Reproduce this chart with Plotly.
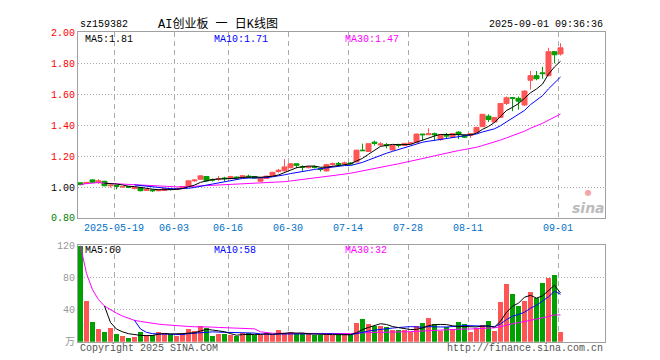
import plotly.graph_objects as go
import pandas as pd

# ---------------- data ----------------
dates = [
    "2025-05-09",
    "2025-05-12", "2025-05-13", "2025-05-14", "2025-05-15", "2025-05-16",
    "2025-05-19", "2025-05-20", "2025-05-21", "2025-05-22", "2025-05-23",
    "2025-05-26", "2025-05-27", "2025-05-28", "2025-05-29", "2025-05-30",
    "2025-06-03", "2025-06-04", "2025-06-05", "2025-06-06",
    "2025-06-09", "2025-06-10", "2025-06-11", "2025-06-12", "2025-06-13",
    "2025-06-16", "2025-06-17", "2025-06-18", "2025-06-19", "2025-06-20",
    "2025-06-23", "2025-06-24", "2025-06-25", "2025-06-26", "2025-06-27",
    "2025-06-30", "2025-07-01", "2025-07-02", "2025-07-03", "2025-07-04",
    "2025-07-07", "2025-07-08", "2025-07-09", "2025-07-10", "2025-07-11",
    "2025-07-14", "2025-07-15", "2025-07-16", "2025-07-17", "2025-07-18",
    "2025-07-21", "2025-07-22", "2025-07-23", "2025-07-24", "2025-07-25",
    "2025-07-28", "2025-07-29", "2025-07-30", "2025-07-31", "2025-08-01",
    "2025-08-04", "2025-08-05", "2025-08-06", "2025-08-07", "2025-08-08",
    "2025-08-11", "2025-08-12", "2025-08-13", "2025-08-14", "2025-08-15",
    "2025-08-18", "2025-08-19", "2025-08-20", "2025-08-21", "2025-08-22",
    "2025-08-25", "2025-08-26", "2025-08-27", "2025-08-28", "2025-08-29",
    "2025-09-01",
]

open_p = [1.027, 1.022, 1.046, 1.030, 1.037, 1.008, 1.010, 1.000, 1.002, 0.990,
          0.995, 0.978, 0.980, 0.976, 0.978, 0.988, 0.984, 0.990, 1.006, 1.040,
          1.050, 1.068, 1.048, 1.050, 1.058, 1.055, 1.064, 1.060, 1.070, 1.068,
          1.037, 1.055, 1.073, 1.100, 1.105, 1.125, 1.150, 1.130, 1.125, 1.132,
          1.118, 1.104, 1.145, 1.152, 1.150, 1.155, 1.162, 1.238, 1.230, 1.290,
          1.272, 1.274, 1.240, 1.275, 1.268, 1.280, 1.288, 1.342, 1.338, 1.345,
          1.306, 1.335, 1.323, 1.355, 1.333, 1.333, 1.352, 1.390, 1.458, 1.420,
          1.450, 1.540, 1.578, 1.573, 1.530, 1.690, 1.720, 1.738, 1.720, 1.875,
          1.860]
high_p = [1.030, 1.033, 1.050, 1.050, 1.040, 1.015, 1.012, 1.006, 1.005, 1.000,
          0.998, 0.986, 0.984, 0.986, 0.992, 0.992, 0.995, 1.006, 1.042, 1.050,
          1.075, 1.070, 1.055, 1.072, 1.066, 1.072, 1.068, 1.077, 1.080, 1.070,
          1.060, 1.073, 1.098, 1.117, 1.180, 1.153, 1.152, 1.140, 1.135, 1.140,
          1.125, 1.150, 1.158, 1.162, 1.165, 1.160, 1.240, 1.280, 1.282, 1.300,
          1.290, 1.285, 1.272, 1.280, 1.285, 1.290, 1.345, 1.344, 1.380, 1.352,
          1.340, 1.350, 1.350, 1.360, 1.336, 1.350, 1.390, 1.472, 1.470, 1.452,
          1.542, 1.585, 1.580, 1.585, 1.625, 1.750, 1.750, 1.777, 1.900, 1.880,
          1.930]
low_p = [1.012, 1.020, 1.028, 1.020, 1.005, 0.996, 0.985, 0.996, 0.994, 0.985,
         0.972, 0.975, 0.967, 0.972, 0.975, 0.978, 0.980, 0.988, 1.004, 1.033,
         1.048, 1.035, 1.035, 1.040, 1.035, 1.050, 1.052, 1.057, 1.060, 1.055,
         1.033, 1.052, 1.070, 1.092, 1.100, 1.120, 1.122, 1.100, 1.120, 1.120,
         1.100, 1.100, 1.140, 1.135, 1.145, 1.145, 1.160, 1.234, 1.228, 1.268,
         1.265, 1.250, 1.235, 1.255, 1.265, 1.278, 1.285, 1.300, 1.335, 1.300,
         1.300, 1.310, 1.320, 1.310, 1.318, 1.318, 1.350, 1.388, 1.420, 1.418,
         1.448, 1.530, 1.490, 1.500, 1.525, 1.630, 1.690, 1.700, 1.715, 1.800,
         1.850]
close_p = [1.015, 1.030, 1.030, 1.040, 1.008, 1.012, 1.004, 1.003, 0.998, 0.997,
           0.976, 0.982, 0.976, 0.982, 0.990, 0.984, 0.990, 1.003, 1.040, 1.045,
           1.072, 1.040, 1.045, 1.055, 1.054, 1.068, 1.060, 1.073, 1.066, 1.058,
           1.058, 1.070, 1.095, 1.108, 1.130, 1.150, 1.140, 1.127, 1.130, 1.128,
           1.113, 1.145, 1.150, 1.148, 1.155, 1.150, 1.238, 1.235, 1.280, 1.282,
           1.278, 1.268, 1.270, 1.270, 1.282, 1.285, 1.342, 1.338, 1.345, 1.338,
           1.337, 1.330, 1.345, 1.342, 1.322, 1.345, 1.385, 1.470, 1.436, 1.450,
           1.540, 1.577, 1.574, 1.555, 1.620, 1.720, 1.700, 1.733, 1.875, 1.855,
           1.900]
volume = [119, 50.4, 24, 15.6, 12, 16.8, 9.6, 7.2, 4, 6,
          12, 8.4, 8, 12, 10.8, 9, 6.8, 11, 15.6, 13,
          19.6, 17, 7, 9, 9, 8, 7, 11, 11, 8,
          8, 11, 8, 14, 10, 12, 9, 9, 9, 8,
          8, 11, 8, 8, 8, 8, 23.2, 27.6, 21.6, 19.6,
          19.6, 18.4, 14.8, 14.8, 14.8, 12.4, 19.6, 23.2, 29.2, 21.6,
          13.6, 18.4, 16, 24.4, 21.6, 12.4, 17.2, 20.8, 26, 13.6,
          49.6, 72, 58.8, 44.8, 50.8, 61.2, 54.8, 72.5, 79, 83,
          12.4]

tick_dates = ["2025-05-19", "2025-06-03", "2025-06-16", "2025-06-30",
              "2025-07-14", "2025-07-28", "2025-08-11", "2025-09-01"]
tick_text = ["2025-05-19", "06-03", "06-16", "06-30",
             "07-14", "07-28", "08-11", "09-01"]
price_ticks = [0.80, 1.00, 1.20, 1.40, 1.60, 1.80, 2.00]
vol_ticks = [0, 40, 80, 120]
vol_tick_text = ["万", "40", "80", "120"]

# ---------------- styling / layout constants ----------------
W, H = 660, 360
L, R = 70, 597
P_TOP, P_BOT = 20, 212
V_TOP, V_BOT = 240, 340
SLOT = 6            # pixels per trading day
BAR = 5 / 6         # bar width as fraction of slot
RED = "#FF5555"
GREEN = "#00A000"
GRID = "#AAAAAA"
BORDER = "#A0A0A0"
MONO = "Liberation Mono, DejaVu Sans Mono, monospace"
CJK = "Liberation Mono, Noto Sans CJK SC, monospace"


def pxx(v):
    return v / W


def pyy(v):
    return 1 - v / H


x = list(range(len(dates)))
cl = pd.Series(close_p)
vo = pd.Series(volume)


def ma(s, n, mp):
    return s.rolling(n, min_periods=mp).mean()


fig = go.Figure()

fig.add_trace(go.Candlestick(
    x=x, open=open_p, high=high_p, low=low_p, close=close_p,
    increasing=dict(line=dict(color=RED, width=1), fillcolor=RED),
    decreasing=dict(line=dict(color=GREEN, width=1), fillcolor=GREEN),
    whiskerwidth=0, xaxis="x", yaxis="y", hoverinfo="skip", showlegend=False))

for s, c in ((ma(cl, 30, 1), "#FF00FF"), (ma(cl, 10, 10), "#0000FF"), (ma(cl, 5, 5), "#000000")):
    fig.add_trace(go.Scatter(x=x, y=s, mode="lines", line=dict(color=c, width=1),
                             xaxis="x", yaxis="y", hoverinfo="skip", showlegend=False))

vcol = [RED if c >= o else GREEN for o, c in zip(open_p, close_p)]
fig.add_trace(go.Bar(x=x, y=volume, width=BAR, marker=dict(color=vcol, line=dict(width=0)),
                     xaxis="x2", yaxis="y2", hoverinfo="skip", showlegend=False))

for s, c in ((ma(vo, 30, 1), "#FF00FF"), (ma(vo, 10, 10), "#0000FF"), (ma(vo, 5, 5), "#000000")):
    fig.add_trace(go.Scatter(x=x, y=s, mode="lines", line=dict(color=c, width=1),
                             xaxis="x2", yaxis="y2", hoverinfo="skip", showlegend=False))

tickvals = [dates.index(d) - BAR / 2 for d in tick_dates]
xrange_ = [-BAR / 2, -BAR / 2 + (R - L) / SLOT]


def price_label(v):
    col = "#FF0000" if v > 1.0 + 1e-9 else ("#000000" if abs(v - 1.0) < 1e-9 else "#008000")
    return f'<span style="color:{col}">{v:.2f}</span>'


xcommon = dict(domain=[pxx(L), pxx(R)], range=xrange_, tickmode="array", tickvals=tickvals,
               showgrid=True, gridcolor=GRID, griddash="5px,4px", gridwidth=1,
               zeroline=False, showline=True, mirror=True, linecolor=BORDER, linewidth=1,
               ticks="", fixedrange=True)

fig.update_layout(
    width=W, height=H, margin=dict(l=0, r=0, t=0, b=0),
    paper_bgcolor="white", plot_bgcolor="white", showlegend=False,
    boxgap=1 - BAR, boxgroupgap=0, bargap=0,
    font=dict(family=MONO, size=10, color="#000000"),
    xaxis=dict(**xcommon, anchor="y", ticktext=tick_text,
               tickfont=dict(family=MONO, size=10, color="#0070C8"),
               rangeslider=dict(visible=False)),
    xaxis2=dict(**xcommon, anchor="y2", matches="x", showticklabels=False),
    yaxis=dict(domain=[pyy(P_BOT), pyy(P_TOP)], range=[price_ticks[0], price_ticks[-1]],
               tickmode="array", tickvals=price_ticks,
               ticktext=[price_label(v) for v in price_ticks],
               tickfont=dict(family=MONO, size=10),
               showgrid=True, gridcolor=GRID, griddash="1px,2px", gridwidth=1,
               zeroline=False, showline=True, mirror=True, linecolor=BORDER, linewidth=1,
               ticks="", anchor="x", fixedrange=True),
    yaxis2=dict(domain=[pyy(V_BOT), pyy(V_TOP)], range=[vol_ticks[0], vol_ticks[-1]],
                tickmode="array", tickvals=vol_ticks, ticktext=vol_tick_text,
                tickfont=dict(family=CJK, size=10, color="#999999"),
                showgrid=True, gridcolor=GRID, griddash="1px,2px", gridwidth=1,
                zeroline=False, showline=True, mirror=True, linecolor=BORDER, linewidth=1,
                ticks="", anchor="x2", fixedrange=True),
)


def ann(text, xp, yp, xanchor="left", color="#000000", size=10, family=MONO, yanchor="middle"):
    fig.add_annotation(text=text, x=pxx(xp), y=pyy(yp), xref="paper", yref="paper",
                       xanchor=xanchor, yanchor=yanchor, showarrow=False,
                       font=dict(family=family, size=size, color=color))


ann("sz159382", L, 12)
ann("AI创业板 一 日K线图", 210, 12, xanchor="center", size=12, family=CJK)
ann("2025-09-01 09:36:36", R, 12, xanchor="right")
ann("MA5:1.81", 75, 27)
ann("MA10:1.71", 204, 27, color="#0000FF")
ann("MA30:1.47", 335, 27, color="#FF00FF")
ann("MA5:60", 75, 246)
ann("MA10:58", 204, 246, color="#0000FF")
ann("MA30:32", 335, 246, color="#FF00FF")
ann("Copyright 2025 SINA.COM", L, 347, color="#555555")
ann("http://finance.sina.com.cn", R, 347, xanchor="right", color="#555555")
# watermark logo (single text block)
ann('<span style="color:#F4A6A6;font-size:8px">●</span><br><b><i>sina</i></b>',
    580, 196, xanchor="center", color="#BBBBBB", size=14,
    family="DejaVu Sans, sans-serif")

fig.write_html("out.html")
